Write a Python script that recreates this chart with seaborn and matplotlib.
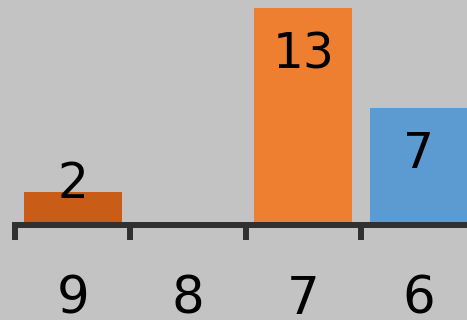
import seaborn as sns
import matplotlib.pyplot as plt
import pandas as pd

# data
categories = ["9", "8", "7", "6"]
values = [2, 0, 13, 7]
bar_colors = ["#c95c17", "#c95c17", "#ee7f31", "#5c9bd1"]

df = pd.DataFrame({"cat": categories, "val": values})

sns.set_style("white")
plt.rcParams["font.family"] = ["DejaVu Sans"]

fig = plt.figure(figsize=(4.67, 3.2), dpi=100)
fig.patch.set_facecolor("#c3c3c3")
# axes deliberately runs off the top / right, like the cropped original
ax = fig.add_axes([15 / 467, 1 - 225 / 320, 1 - 15 / 467, 225 / 320])
ax.set_facecolor("#c3c3c3")

sns.barplot(data=df, x="cat", y="val", hue="cat", order=categories,
            palette=dict(zip(categories, bar_colors)), width=0.85,
            legend=False, ax=ax, saturation=1, linewidth=0)

# value labels: inside the bar top, above it when the bar is short
for i, v in enumerate(values):
    if v == 0:
        continue
    ty = v - 2.75 if v > 4 else v + 0.45
    ax.text(i, ty, str(v), ha="center", va="center", fontsize=35, color="black")

for s in ["top", "right", "left"]:
    ax.spines[s].set_visible(False)
ax.spines["bottom"].set_linewidth(4.3)
ax.spines["bottom"].set_color("#303030")

ax.set_yticks([])
ax.set_xticks(range(len(categories)))
ax.set_xticklabels(categories, fontsize=37, color="black")
ax.set_xticks([i - 0.5 for i in range(len(categories) + 1)], minor=True)
ax.tick_params(axis="x", which="major", length=0, pad=36, bottom=True)
ax.tick_params(axis="x", which="minor", length=11, width=4.3, color="#303030",
               direction="out", bottom=True)
ax.set_xlabel("")
ax.set_ylabel("")

# limits last, set_xticks would widen them
ax.set_ylim(0, 13.5)
ax.set_xlim(-0.5, 3.42)

plt.savefig("out.png", dpi=100, facecolor=fig.get_facecolor())
